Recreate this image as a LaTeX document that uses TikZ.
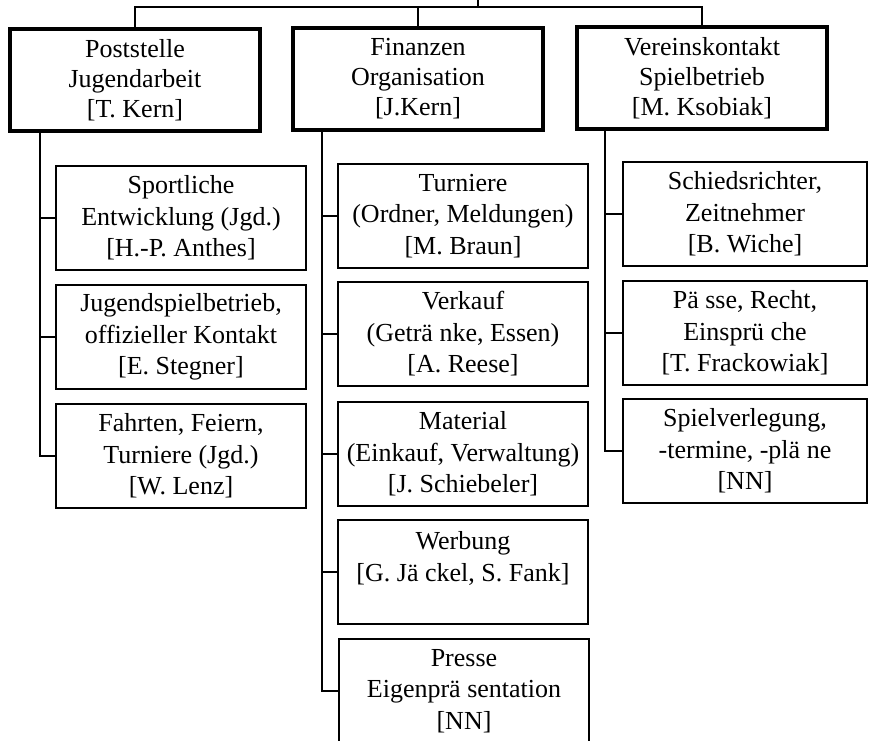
\documentclass[tikz,border=0pt]{standalone}
\usepackage{fontspec}
\setmainfont{Liberation Serif}
\tikzset{
	headbox/.style={draw,line width=4pt,minimum width=250pt,minimum height=102pt,align=center,inner sep=0pt,font=\fontsize{26}{30}\selectfont},
	taskbox/.style={draw,line width=2.6pt,minimum width=250pt,minimum height=104pt,align=center,inner sep=0pt,font=\fontsize{26}{31.5}\selectfont},
	link/.style={line width=1.1pt}
}
\begin{document}
\begin{tikzpicture}[x=1pt,y=-1pt]
	\useasboundingbox (0,0) rectangle (873,740);
	% top row
	\node[headbox] (post) at (135,80) {Poststelle\\Jugendarbeit\\{[T. Kern]}};
	\node[headbox] (fin) at (418,79) {Finanzen\\Organisation\\{[J.Kern]}};
	\node[headbox] (verein) at (702,78) {Vereinskontakt\\Spielbetrieb\\{[M. Ksobiak]}};
	\coordinate (root) at (478,-3);
	\coordinate (bar) at (478,7);
	\draw[link] (root) -- (bar);
	\draw[link] (post.north) -- (post.north |- bar) -- (verein.north |- bar) -- (verein.north);
	\draw[link] (fin.north) -- (fin.north |- bar);
	% left column
	\node[taskbox] (sport) at (181,218) {Sportliche\\Entwicklung (Jgd.)\\{[H.-P. Anthes]}};
	\node[taskbox] (jugend) at (181,337) {Jugendspielbetrieb,\\offizieller Kontakt\\{[E. Stegner]}};
	\node[taskbox] (fahrt) at (181,456) {Fahrten, Feiern,\\Turniere (Jgd.)\\{[W. Lenz]}};
	\coordinate (lspine) at (40,0);
	\draw[link] (post.south -| lspine) |- (fahrt.west);
	\foreach \n in {sport,jugend}
		\draw[link] (lspine |- \n.west) -- (\n.west);
	% middle column
	\node[taskbox] (turn) at (463,216) {Turniere\\(Ordner, Meldungen)\\{[M. Braun]}};
	\node[taskbox] (verk) at (463,334) {Verkauf\\(Geträ nke, Essen)\\{[A. Reese]}};
	\node[taskbox] (mat) at (463,454) {Material\\(Einkauf, Verwaltung)\\{[J. Schiebeler]}};
	\node[taskbox] (werb) at (463,572) {Werbung\\{[G. Jä ckel, S. Fank]}\\\mbox{}};
	\node[taskbox] (presse) at (464,691) {Presse\\Eigenprä sentation\\{[NN]}};
	\coordinate (mspine) at (322,0);
	\draw[link] (fin.south -| mspine) |- (presse.west);
	\foreach \n in {turn,verk,mat,werb}
		\draw[link] (mspine |- \n.west) -- (\n.west);
	% right column
	\node[taskbox,minimum width=244pt] (schied) at (745,214) {Schiedsrichter,\\Zeitnehmer\\{[B. Wiche]}};
	\node[taskbox,minimum width=244pt] (paesse) at (745,333) {Pä sse, Recht,\\Einsprü che\\{[T. Frackowiak]}};
	\node[taskbox,minimum width=244pt] (spiel) at (745,451) {Spielverlegung,\\-termine, -plä ne\\{[NN]}};
	\coordinate (rspine) at (605,0);
	\draw[link] (verein.south -| rspine) |- (spiel.west);
	\foreach \n in {schied,paesse}
		\draw[link] (rspine |- \n.west) -- (\n.west);
\end{tikzpicture}
\end{document}
